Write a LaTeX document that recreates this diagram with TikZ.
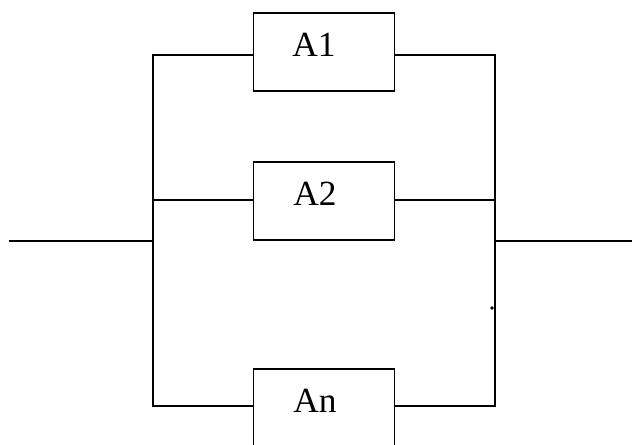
\documentclass[tikz,border=0pt]{standalone}
\usepackage{fontspec}
\setmainfont{Liberation Serif}
\begin{document}
\begin{tikzpicture}[x=1bp,y=-1bp,
  wire/.style={line width=1.5bp, line cap=rect},
  elem/.style={draw, line width=1.5bp, minimum width=141bp, minimum height=78bp, inner sep=0pt},
  lbl/.style={inner sep=0pt, font=\fontsize{35.5}{40}\selectfont}]
\useasboundingbox (0,0) rectangle (632,445);
\clip (0,0) rectangle (632,445);
\node[elem] (A1) at (324,52) {};
\node[elem] (A2) at (324,201) {};
\node[elem] (An) at (324,408) {};
\node[lbl] (A1t) at ([shift={(-10,-7.5)}]A1.center) {A1};
\node[lbl] (A2t) at ([shift={(-9,-7.5)}]A2.center) {A2};
\node[lbl] (Ant) at ([shift={(-9,-7)}]An.center) {An};
\coordinate (in) at (10,241);
\coordinate (out) at (632,241);
\coordinate (lt) at (153,55);
\coordinate (lb) at (153,406);
\coordinate (rt) at (495,55);
\coordinate (rb) at (495,406);
\coordinate (lm) at (153,241);
\coordinate (rm) at (495,241);
\coordinate (l2) at (153,200);
\coordinate (r2) at (495,200);
\draw[wire] (lt) -- (lb);
\draw[wire] (rt) -- (rb);
\draw[wire] (in) -- (lm);
\draw[wire] (rm) -- (out);
\draw[wire] (lt) -- (lt -| A1.west);
\draw[wire] (rt -| A1.east) -- (rt);
\draw[wire] (l2) -- (l2 -| A2.west);
\draw[wire] (r2 -| A2.east) -- (r2);
\draw[wire] (lb) -- (lb -| An.west);
\draw[wire] (lb -| An.east) -- (rb);
\fill (492,308) circle (1.8bp);
\end{tikzpicture}
\end{document}
